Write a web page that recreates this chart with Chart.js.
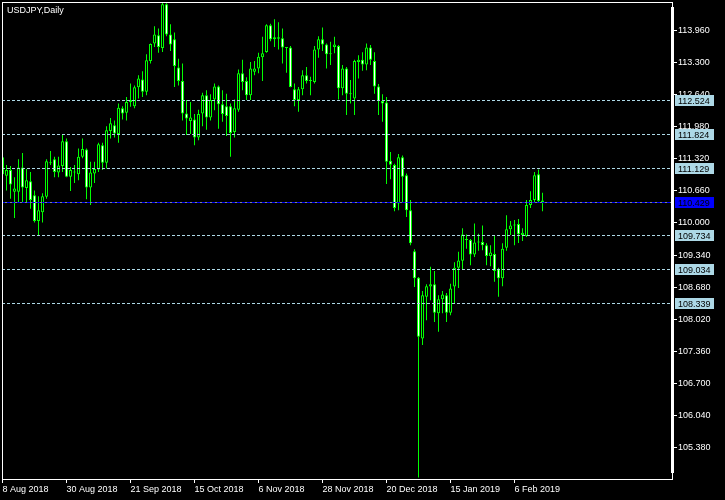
<!DOCTYPE html>
<html>
<head>
<meta charset="utf-8">
<script src="https://cdn.jsdelivr.net/npm/chart.js@4.4.0/dist/chart.umd.min.js"></script>
<style>
html,body{margin:0;padding:0;background:#000;overflow:hidden;}
canvas{display:block;}
</style>
</head>
<body>
<canvas id="c" width="725" height="500" style="width:725px;height:500px"></canvas>
<script>
// ---------------- data ----------------
const symbolTitle = 'USDJPY,Daily';
const dateLabels = ['8 Aug 2018','30 Aug 2018','21 Sep 2018','15 Oct 2018','6 Nov 2018','28 Nov 2018','20 Dec 2018','15 Jan 2019','6 Feb 2019'];
const dateLabelIndex = [0,16,32,48,64,80,96,112,128];
const priceTicks = [113.960,113.300,112.640,111.980,111.320,110.660,110.000,109.340,108.680,108.020,107.360,106.700,106.040,105.380];
const levelLines = [112.524,111.824,111.129,109.734,109.034,108.339];
const bidLevel = 110.429;

const opens = [111.35,110.97,111.09,110.64,110.64,111.14,110.72,110.86,110.57,110.04,
110.22,110.54,111.24,111.31,111.04,111.17,111.68,110.95,111.06,111.00,
111.36,111.51,110.73,111.02,111.10,111.60,111.24,111.89,112.01,111.83,
112.36,112.27,112.49,112.40,112.79,112.95,112.70,113.33,113.69,113.86,
113.60,114.50,113.88,113.78,113.20,112.92,112.25,112.10,112.13,111.76,
112.25,112.63,112.17,112.54,112.81,112.44,112.40,112.40,111.87,112.33,
113.08,112.92,112.63,113.11,113.18,113.41,113.52,114.07,113.78,113.82,
113.80,113.61,113.61,112.75,112.53,112.75,113.04,112.92,112.90,113.57,
113.78,113.67,113.47,113.62,113.64,112.77,113.18,112.66,112.56,113.31,
113.36,113.26,113.61,113.33,112.81,112.51,112.48,111.28,111.19,110.40,
111.35,110.98,110.26,109.42,108.87,107.62,108.48,108.69,108.74,108.14,
108.43,108.51,108.15,108.69,109.08,109.22,109.65,109.65,109.35,109.60,
109.61,109.54,109.32,109.36,109.05,108.86,109.49,109.87,109.95,109.98,
109.75,109.73,110.37,110.47,111.00,110.46];
const highs = [111.37,111.19,111.17,110.94,111.31,111.44,111.11,111.05,110.67,110.55,
110.61,111.31,111.48,111.36,111.36,111.81,111.74,111.15,111.19,111.53,
111.74,111.53,111.26,111.26,111.65,111.65,111.99,112.16,112.11,112.46,
112.40,112.59,112.87,112.83,113.04,113.12,113.47,113.69,114.05,114.00,
114.55,114.52,114.09,113.92,113.38,113.28,112.53,112.49,112.24,112.33,
112.68,112.73,112.65,112.87,112.83,112.73,112.66,112.46,112.54,113.16,
113.36,113.00,113.31,113.33,113.50,113.83,114.09,114.10,114.19,114.13,
114.00,113.62,113.64,112.87,112.80,113.14,113.21,113.01,113.64,113.84,
114.02,113.69,113.73,113.83,113.66,113.25,113.21,112.94,113.36,113.45,
113.51,113.69,113.66,113.51,112.86,112.65,112.59,111.46,111.22,111.42,
111.39,111.02,110.47,109.46,108.89,108.60,108.74,109.10,109.01,108.51,
108.60,108.56,108.75,109.19,109.41,109.89,109.76,109.67,109.99,109.78,
109.95,109.58,109.54,109.75,109.08,109.58,110.16,110.04,110.06,110.08,
109.89,110.47,110.65,111.05,111.10,110.62];
const lows = [110.98,110.67,110.50,110.10,110.43,110.43,110.42,110.29,110.01,109.75,
110.01,110.50,111.19,110.94,110.94,111.05,110.94,110.66,110.82,110.88,
111.33,110.49,110.37,110.82,111.05,111.09,111.12,111.74,111.76,111.65,
112.13,112.11,112.39,112.36,112.56,112.59,112.63,113.28,113.62,113.50,
113.52,113.84,113.54,112.80,112.83,112.11,111.81,111.83,111.60,111.70,
111.99,111.92,112.11,112.32,111.94,112.08,111.79,111.36,111.76,112.29,
112.73,112.53,112.53,113.04,113.08,112.92,113.50,113.74,113.62,113.57,
113.28,113.09,112.79,112.40,112.29,112.63,112.87,112.63,112.87,113.40,
113.54,113.18,113.25,113.49,112.54,112.63,112.22,112.46,112.22,112.97,
113.13,113.14,113.25,112.66,112.22,112.08,110.80,110.90,110.24,110.26,
110.41,110.12,109.54,108.68,104.76,107.49,108.00,108.41,107.96,107.76,
108.14,107.96,108.10,108.34,108.66,109.03,109.47,109.13,109.30,109.43,
109.44,109.13,109.11,108.79,108.48,108.70,109.43,109.75,109.54,109.59,
109.63,109.71,110.31,110.43,110.41,110.24];
const closes = [111.00,111.09,110.79,110.71,111.14,110.73,110.88,110.47,110.04,110.26,
110.55,111.27,111.23,111.05,111.18,111.68,110.95,111.09,111.04,111.36,
111.52,110.73,111.04,111.11,111.62,111.24,111.91,112.05,111.84,112.37,
112.25,112.49,112.53,112.79,112.97,112.70,113.35,113.68,113.88,113.62,
114.50,113.88,113.67,113.23,112.92,112.25,112.15,112.17,111.76,112.24,
112.63,112.17,112.53,112.81,112.44,112.24,112.20,111.85,112.36,113.08,
112.90,112.63,113.18,113.18,113.42,113.49,114.07,113.78,113.82,113.79,
113.61,113.60,112.80,112.53,112.75,113.04,112.92,112.94,113.57,113.78,
113.67,113.47,113.49,113.67,112.77,113.18,112.66,112.65,113.33,113.36,
113.26,113.61,113.36,112.81,112.51,112.46,111.26,111.20,110.31,111.35,
110.95,110.26,109.58,108.86,107.66,108.51,108.70,108.74,108.15,108.43,
108.53,108.15,108.65,109.08,109.23,109.76,109.67,109.35,109.60,109.62,
109.54,109.32,109.39,109.01,108.86,109.47,109.87,109.95,109.97,109.77,
109.80,110.37,110.47,110.98,110.45,110.43];

// ---------------- fonts ----------------
function hasFont(name){
  const c = document.createElement('canvas').getContext('2d');
  const s = 'USDJPY,Daily 113.960 Aug';
  c.font = '40px monospace';
  const w1 = c.measureText(s).width;
  c.font = '40px "' + name + '", monospace';
  const w2 = c.measureText(s).width;
  return Math.abs(w1 - w2) > 0.5;
}
const narrow = hasFont('Liberation Sans Narrow');
const FONT_FAMILY = narrow ? '"Liberation Sans Narrow", "Liberation Sans", sans-serif' : '"Liberation Sans", sans-serif';
const FONT_SIZE = narrow ? 11 : 9;

// ---------------- scales ----------------
const X_MIN = -0.125, X_MAX = 167.375;
const Y_MAX = 113.96 + 28.5 / 48.6;
const Y_MIN = Y_MAX - 477 / 48.6;

const bodyData = opens.map((o, i) => ({x: i, y: [o, closes[i]]}));
const wickData = lows.map((l, i) => ({x: i, y: [l, highs[i]]}));
const bodyFill = closes.map((c, i) => c >= opens[i] ? '#000000' : '#ffffff');

// horizontal level lines, placed through the y scale (pixel-snapped for crisp 1px dashes)
const levelPlugin = {
  id: 'levels',
  afterDatasetsDraw(chart){
    const {ctx, chartArea: a} = chart;
    const ys = chart.scales.y;
    ctx.save();
    ctx.lineWidth = 1;
    const line = (v, color, dash) => {
      const y = Math.floor(ys.getPixelForValue(v)) + 0.5;
      ctx.strokeStyle = color;
      ctx.setLineDash(dash);
      ctx.beginPath();
      ctx.moveTo(a.left, y);
      ctx.lineTo(a.right, y);
      ctx.stroke();
    };
    levelLines.forEach(v => line(v, '#add8e6', [3, 2]));
    line(bidLevel, '#778899', []);
    line(bidLevel, '#0000ff', [3, 2]);
    ctx.restore();
  }
};

const framePlugin = {
  id: 'frame',
  afterDraw(chart){
    const {ctx, chartArea: a} = chart;
    const ys = chart.scales.y;
    ctx.save();
    ctx.strokeStyle = '#ffffff';
    ctx.lineWidth = 1;
    ctx.strokeRect(a.left + 0.5, a.top + 0.5, a.right - a.left, a.bottom - a.top);
    ctx.fillStyle = '#ffffff';
    ctx.fillRect(a.right - 1, a.top + 5, 3, a.bottom - a.top - 11);
    ctx.font = FONT_SIZE + 'px ' + FONT_FAMILY;
    ctx.textBaseline = 'alphabetic';
    ctx.textAlign = 'left';
    ctx.fillText(symbolTitle, 7, 13);
    const drawBox = (v, bg, fg) => {
      const y = Math.floor(ys.getPixelForValue(v));
      ctx.fillStyle = bg;
      ctx.fillRect(a.right + 3, y - 5, 39, 11);
      ctx.fillStyle = fg;
      ctx.fillText(v.toFixed(3), a.right + 6, y + 4);
    };
    levelLines.forEach(v => drawBox(v, '#add8e6', '#000000'));
    drawBox(bidLevel, '#0000ff', '#000000');
    ctx.restore();
  }
};

new Chart(document.getElementById('c'), {
  type: 'bar',
  data: {
    datasets: [
      {label: 'body', data: bodyData, backgroundColor: bodyFill, borderColor: '#00ff00', borderWidth: 1,
       borderSkipped: false, barThickness: 3, minBarLength: 1, grouped: false, inflateAmount: 0, order: 0},
      {label: 'wick', data: wickData, backgroundColor: '#00ff00', borderWidth: 0,
       barThickness: 1, grouped: false, inflateAmount: 0, order: 1}
    ]
  },
  options: {
    responsive: false,
    animation: false,
    devicePixelRatio: 1,
    layout: {padding: {left: 2, top: 2, right: 0, bottom: 0}},
    plugins: {legend: {display: false}, tooltip: {enabled: false}},
    scales: {
      x: {
        type: 'linear', position: 'bottom', min: X_MIN, max: X_MAX, offset: false,
        grid: {display: true, drawOnChartArea: false, drawTicks: true, tickLength: 4, color: '#ffffff', offset: false},
        border: {display: false},
        afterBuildTicks: s => { s.ticks = dateLabelIndex.map(v => ({value: v})); },
        afterFit: s => { s.height = 21; s.paddingLeft = 0; s.paddingRight = 0; },
        ticks: {
          color: '#ffffff', font: {family: FONT_FAMILY, size: FONT_SIZE}, align: 'start',
          padding: 1, maxRotation: 0, autoSkip: false,
          callback: v => { const k = dateLabelIndex.indexOf(v); return k >= 0 ? dateLabels[k] : ''; }
        }
      },
      y: {
        position: 'right', min: Y_MIN, max: Y_MAX,
        grid: {display: true, drawOnChartArea: false, drawTicks: true, tickLength: 5, color: '#ffffff'},
        border: {display: false},
        afterBuildTicks: s => { s.ticks = priceTicks.map(v => ({value: v})); },
        afterFit: s => { s.width = 53; s.paddingTop = 0; s.paddingBottom = 0; },
        ticks: {
          color: '#ffffff', font: {family: FONT_FAMILY, size: FONT_SIZE}, padding: 1, autoSkip: false,
          callback: v => Number(v).toFixed(3)
        }
      }
    }
  },
  plugins: [levelPlugin, framePlugin]
});
</script>
</body>
</html>
